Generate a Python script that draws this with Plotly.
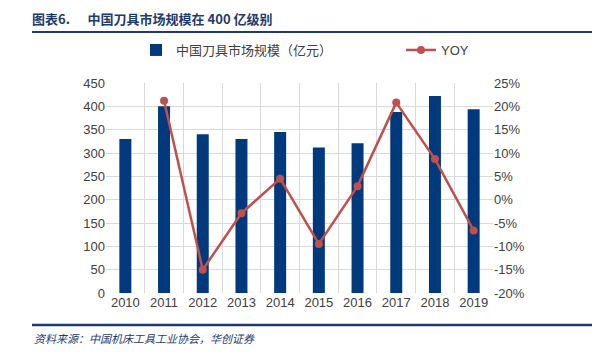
import plotly.graph_objects as go

years = [2010, 2011, 2012, 2013, 2014, 2015, 2016, 2017, 2018, 2019]
market = [330, 400, 340, 330, 345, 312, 321, 388, 422, 394]
yoy_years = [2011, 2012, 2013, 2014, 2015, 2016, 2017, 2018, 2019]
yoy = [21.2, -15.0, -2.9, 4.5, -9.5, 2.9, 20.8, 8.7, -6.6]

left_ticks = [0, 50, 100, 150, 200, 250, 300, 350, 400, 450]
right_ticks = [-20, -15, -10, -5, 0, 5, 10, 15, 20, 25]

BAR = "#003A7D"
LINE = "#C0504D"
FONT = "Liberation Sans, Noto Sans CJK SC, sans-serif"
PW, PH = 387, 210

fig = go.Figure()
fig.add_trace(go.Bar(x=years, y=market, name="中国刀具市场规模（亿元）",
                     marker=dict(color=BAR, line=dict(width=0)), width=0.31, yaxis="y",
                     legend="legend"))
fig.add_trace(go.Scatter(x=yoy_years, y=yoy, name="YOY", mode="lines+markers",
                         line=dict(color=LINE, width=2.5),
                         marker=dict(color=LINE, size=8), yaxis="y2", legend="legend2"))
bounds = [y + 0.5 for y in range(2009, 2020)]
fig.add_trace(go.Scatter(x=[bounds[0]], y=[0], xaxis="x2", yaxis="y", mode="markers",
                         marker=dict(opacity=0), showlegend=False, hoverinfo="skip"))

grid = "#D9D9D9"
legfont = dict(size=13, color="#404040")
fig.update_layout(
    width=592, height=362,
    margin=dict(l=106, r=99, t=83, b=69, autoexpand=False),
    paper_bgcolor="white", plot_bgcolor="white",
    font=dict(family=FONT, size=13, color="#404040"),
    showlegend=True,
    legend=dict(orientation="h", x=(136 - 106) / PW, y=1 + (83 - 50) / PH,
                xanchor="left", yanchor="middle", font=legfont, itemwidth=30,
                bgcolor="rgba(0,0,0,0)"),
    legend2=dict(orientation="h", x=(401 - 106) / PW, y=1 + (83 - 50) / PH,
                 xanchor="left", yanchor="middle", font=legfont, itemwidth=30,
                 bgcolor="rgba(0,0,0,0)"),
    xaxis=dict(range=[2009.5, 2019.5], tickvals=years, ticktext=[str(y) for y in years],
               showgrid=False, zeroline=False, showline=False, ticks="",
               tickfont=dict(size=13, color="#404040")),
    xaxis2=dict(range=[2009.5, 2019.5], overlaying="x", tickvals=bounds,
                showticklabels=False, showgrid=True, gridcolor=grid, gridwidth=1,
                zeroline=False, showline=False, ticks="", layer="below traces"),
    yaxis=dict(range=[0, 450], tickvals=left_ticks, showgrid=True, gridcolor=grid,
               gridwidth=1, zeroline=False, showline=False, ticks="",
               tickfont=dict(size=13, color="#404040")),
    yaxis2=dict(range=[-20, 25], tickvals=right_ticks,
                ticktext=[f"{v}%" for v in right_ticks], overlaying="y", side="right",
                showgrid=False, zeroline=False, showline=False, ticks="",
                tickfont=dict(size=13, color="#404040")),
)

fig.add_annotation(xref="paper", yref="paper", x=(30 - 106) / PW, y=1 + (83 - 18) / PH,
                   xanchor="left", yanchor="middle", showarrow=False,
                   text="<b>图表6.      中国刀具市场规模在 400 亿级别</b>",
                   font=dict(family="Noto Sans CJK SC, serif", size=13, color="#1F3A6E"))
fig.add_shape(type="line", xref="paper", yref="paper",
              x0=(32 - 106) / PW, x1=(592 - 106) / PW, y0=1 + (83 - 32) / PH, y1=1 + (83 - 32) / PH,
              line=dict(color="#1F3A6E", width=2))
fig.add_shape(type="line", xref="paper", yref="paper",
              x0=(32 - 106) / PW, x1=(592 - 106) / PW, y0=-(325 - 293) / PH, y1=-(325 - 293) / PH,
              line=dict(color="#1F3A6E", width=2.5))
fig.add_annotation(xref="paper", yref="paper", x=(32 - 106) / PW, y=-(338 - 293) / PH,
                   xanchor="left", yanchor="middle", showarrow=False,
                   text="<i>资料来源：中国机床工具工业协会，华创证券</i>",
                   font=dict(family="Noto Sans CJK SC, serif", size=11, color="#1F3A6E"))

fig.write_html("out.html", post_script="document.body.style.margin='0px';",
               config={"displayModeBar": False})
